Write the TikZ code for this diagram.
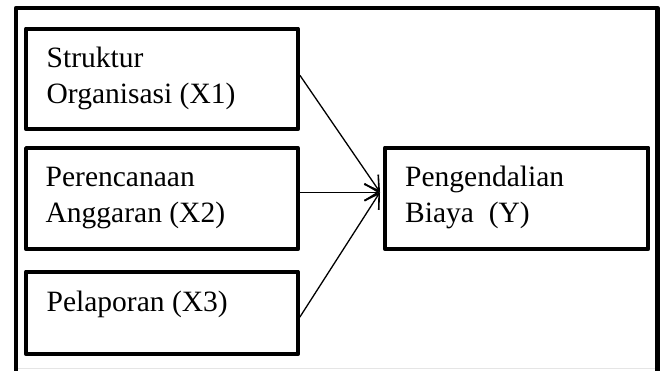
\documentclass[tikz,border=0pt]{standalone}
\usepackage{fontspec}
\setmainfont{Liberation Serif}
\usetikzlibrary{arrows.meta,calc}
\begin{document}
\begin{tikzpicture}[x=1pt,y=-1pt,
  box/.style={draw,line width=4.3pt,line join=round,inner sep=0pt,anchor=north west},
  lbl/.style={anchor=base west,inner sep=0pt,font=\fontsize{29.5}{36}\selectfont},
  conn/.style={line width=1.3pt,-{Straight Barb[length=14pt,width=17pt,line width=1.6pt]}}]
\useasboundingbox (0,0) rectangle (664,370);
\fill[white] (0,0) rectangle (664,370);
\draw[gray!20,line width=1pt] (16,368.5) -- (657.5,368.5);
\draw[line width=4.3pt,line join=round] (16,372) -- (16,8) -- (657.5,8) -- (657.5,372);
\node[box,minimum width=271.5pt,minimum height=100.5pt] (b1) at (24,26.5) {};
\node[box,minimum width=271.5pt,minimum height=101pt] (b2) at (24,146) {};
\node[box,minimum width=271.5pt,minimum height=82.5pt] (b3) at (24,269.5) {};
\node[box,minimum width=263pt,minimum height=101.5pt] (y) at (383,145.5) {};
\node[lbl] (t1a) at (46.5,67) {Struktur};
\node[lbl] (t1b) at (46.5,103) {Organisasi (X1)};
\node[lbl] (t2a) at (45.5,186.5) {Perencanaan};
\node[lbl] (t2b) at (45.5,222.5) {Anggaran (X2)};
\node[lbl] (t3) at (46.5,311.5) {Pelaporan (X3)};
\node[lbl] (tya) at (405,186.5) {Pengendalian};
\node[lbl] (tyb) at (405,222.5) {Biaya~ (Y)};
\coordinate (tip) at ($(y.west)+(-3,-6.25)$);
\draw[conn] ($(b1.east)+(0,-3.75)$) -- (tip);
\draw[conn] ($(b2.east)+(0,-6.5)$) -- (tip);
\draw[conn] ($(b3.east)+(0,4.25)$) -- (tip);
\end{tikzpicture}
\end{document}
